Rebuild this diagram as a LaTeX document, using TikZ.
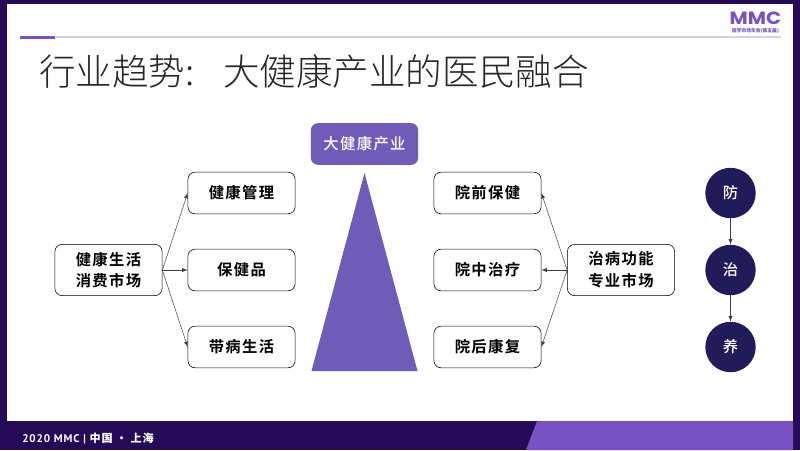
\documentclass[tikz,border=0pt]{standalone}
\usepackage{fontspec}
\setmainfont{Noto Sans CJK SC}
\newfontfamily\cjk{Noto Sans CJK SC Bold}[LetterSpace=9]
\newfontfamily\cjkwhite{Noto Sans CJK SC Medium}[LetterSpace=9]
\newfontfamily\titlefont{Noto Sans CJK SC Light}
\newfontfamily\footfont{PT Sans}[LetterSpace=8]
\newfontfamily\footcjk{Noto Sans CJK SC}[LetterSpace=8]
\newfontfamily\logofont{Poppins}[FakeStretch=1.12]
\usetikzlibrary{positioning}

\definecolor{framepurple}{HTML}{250A57}
\definecolor{accentpurple}{HTML}{7851C4}
\definecolor{shapepurple}{HTML}{6F5CB9}
\definecolor{circlenavy}{HTML}{231A5A}
\definecolor{rulegray}{HTML}{D6D0E6}

\tikzset{
	itembox/.style={draw=black, fill=white, rounded corners=5pt, minimum width=3.78cm*0.7083, minimum height=1.04cm, font=\cjk\fontsize{10.9}{15.5}\selectfont, align=center, inner sep=0pt},
	marketbox/.style={itembox, minimum height=1.28cm},
	stagecircle/.style={circle, fill=circlenavy, text=white, minimum size=1.26cm, inner sep=0pt, font=\cjkwhite\fontsize{10.9}{13}\selectfont},
	linkarrow/.style={draw=black!75, line width=0.35pt, ->, >=latex}
}

\begin{document}
\begin{tikzpicture}[x=0.025cm, y=-0.025cm]
	\useasboundingbox (0,0) rectangle (800,450);

	% frame
	\fill[white] (0,0) rectangle (800,450);
	\fill[framepurple] (0,0) rectangle (800,4);
	\fill[framepurple] (0,0) rectangle (7,450);
	\fill[framepurple] (793,0) rectangle (800,450);
	\fill[framepurple] (0,421) rectangle (800,450);
	\fill[accentpurple] (537,421) -- (793,421) -- (793,450) -- (526,450) -- cycle;

	% header
	\fill[rulegray] (20,36) rectangle (781,38);
	\fill[accentpurple] (20,35.5) rectangle (55,38.5);
	\node[anchor=west, inner sep=0pt, text=black!85] (title) at (39,72) {\titlefont\fontsize{26}{30}\selectfont 行业趋势:\hspace{0.78em}大健康产业的医民融合};
	\node[inner sep=0pt, text=accentpurple] (logo) at (755.5,18) {\logofont\bfseries\fontsize{12.6}{13}\selectfont MMC};
	\node[inner sep=0pt, text=accentpurple] (logosub) at (755.5,31) {\fontsize{3.4}{4}\selectfont\bfseries 医学市场年会(第五届)};

	% footer
	\node[anchor=west, inner sep=0pt, text=white] (foot) at (22,438) {\footfont\bfseries\fontsize{7.9}{9}\selectfont 2020 MMC | {\footcjk 中国 · 上海}};

	% pyramid
	\fill[shapepurple] (364.5,173) -- (417.5,371) -- (311.5,371) -- cycle;
	\node[fill=shapepurple, rounded corners=5pt, minimum width=2.66cm*1.008, minimum height=1.04cm, inner sep=0pt, text=white, font=\cjkwhite\fontsize{10.9}{15}\selectfont] (industry) at (364.5,144) {大健康产业};

	% left branch
	\node[marketbox] (life) at (108.5,270) {健康生活\\消费市场};
	\node[itembox] (manage) at (241.5,193) {健康管理};
	\node[itembox] (supplement) at (241.5,270) {保健品};
	\node[itembox] (chronic) at (241.5,347) {带病生活};
	\draw[linkarrow] (life.east) -- (manage.west);
	\draw[linkarrow] (life.east) -- (supplement.west);
	\draw[linkarrow] (life.east) -- (chronic.west);

	% right branch
	\node[marketbox] (cure) at (621,270) {治病功能\\专业市场};
	\node[itembox] (before) at (487.5,193) {院前保健};
	\node[itembox] (during) at (487.5,270) {院中治疗};
	\node[itembox] (after) at (487.5,347) {院后康复};
	\draw[linkarrow] (cure.west) -- (before.east);
	\draw[linkarrow] (cure.west) -- (during.east);
	\draw[linkarrow] (cure.west) -- (after.east);

	% stages
	\node[stagecircle] (prevent) at (730.5,193) {防};
	\node[stagecircle] (treat) at (730.5,270) {治};
	\node[stagecircle] (nurse) at (730.5,347) {养};
	\draw[linkarrow] (prevent) -- (treat);
	\draw[linkarrow] (treat) -- (nurse);
\end{tikzpicture}
\end{document}
